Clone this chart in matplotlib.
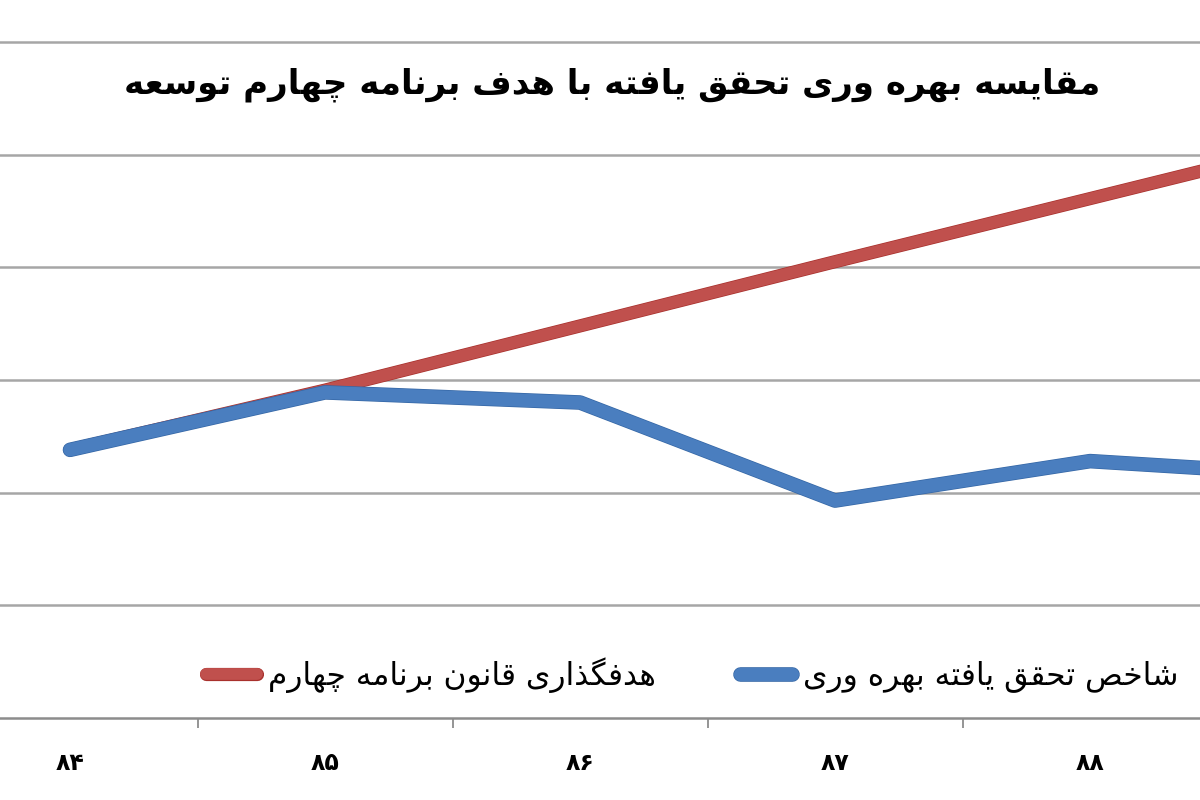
import matplotlib
matplotlib.use("Agg")
import matplotlib.pyplot as plt
import matplotlib.patheffects as pe
from matplotlib.ticker import FixedLocator

# Data (one grid step = 1 unit)
years = ['۸۴', '۸۵', '۸۶', '۸۷', '۸۸', '۸۹']
target = [2.38, 2.91, 3.48, 4.05, 4.61, 5.17]
achieved = [2.38, 2.89, 2.80, 1.93, 2.28, 2.14]

title = 'مقایسه بهره وری تحقق یافته با هدف برنامه چهارم توسعه'
label_target = 'هدفگذاری قانون برنامه چهارم'
label_achieved = 'شاخص تحقق یافته بهره وری'

# matplotlib has no Arabic shaping, so pick presentation forms by hand
# (isolated, final, initial, medial); None = does not join to the next letter
FORMS = {
    'ا': ('\uFE8D', '\uFE8E', None, None),
    'ب': ('\uFE8F', '\uFE90', '\uFE91', '\uFE92'),
    'ت': ('\uFE95', '\uFE96', '\uFE97', '\uFE98'),
    'ح': ('\uFEA1', '\uFEA2', '\uFEA3', '\uFEA4'),
    'خ': ('\uFEA5', '\uFEA6', '\uFEA7', '\uFEA8'),
    'د': ('\uFEA9', '\uFEAA', None, None),
    'ذ': ('\uFEAB', '\uFEAC', None, None),
    'ر': ('\uFEAD', '\uFEAE', None, None),
    'س': ('\uFEB1', '\uFEB2', '\uFEB3', '\uFEB4'),
    'ش': ('\uFEB5', '\uFEB6', '\uFEB7', '\uFEB8'),
    'ص': ('\uFEB9', '\uFEBA', '\uFEBB', '\uFEBC'),
    'ع': ('\uFEC9', '\uFECA', '\uFECB', '\uFECC'),
    'ف': ('\uFED1', '\uFED2', '\uFED3', '\uFED4'),
    'ق': ('\uFED5', '\uFED6', '\uFED7', '\uFED8'),
    'ل': ('\uFEDD', '\uFEDE', '\uFEDF', '\uFEE0'),
    'م': ('\uFEE1', '\uFEE2', '\uFEE3', '\uFEE4'),
    'ن': ('\uFEE5', '\uFEE6', '\uFEE7', '\uFEE8'),
    'ه': ('\uFEE9', '\uFEEA', '\uFEEB', '\uFEEC'),
    'و': ('\uFEED', '\uFEEE', None, None),
    'ی': ('\uFBFC', '\uFBFD', '\uFBFE', '\uFBFF'),
    'چ': ('\uFB7A', '\uFB7B', '\uFB7C', '\uFB7D'),
    'گ': ('\uFB92', '\uFB93', '\uFB94', '\uFB95'),
}


def fa(text):
    out = []
    for i, c in enumerate(text):
        if c not in FORMS:
            out.append(c)
            continue
        prev = text[i - 1] if i > 0 else None
        nxt = text[i + 1] if i + 1 < len(text) else None
        join_prev = prev in FORMS and FORMS[prev][2] is not None
        join_next = nxt in FORMS and FORMS[c][2] is not None
        iso, fin, ini, med = FORMS[c]
        if join_prev and join_next:
            out.append(med)
        elif join_prev:
            out.append(fin)
        elif join_next:
            out.append(ini)
        else:
            out.append(iso)
    return ''.join(reversed(out))


plt.rcParams['font.family'] = ['DejaVu Sans']

fig = plt.figure(figsize=(12, 8), dpi=100)
ax = fig.add_axes([0, 82 / 800, 1, 718 / 800])

x = list(range(len(years)))
red = '#C0504D'
blue = '#4A7EBF'

ax.plot(x, target, color=red, lw=8.5, solid_capstyle='round', solid_joinstyle='round',
        label=fa(label_target),
        path_effects=[pe.Stroke(linewidth=9.5, foreground='#A8302C'), pe.Normal()])
ax.plot(x, achieved, color=blue, lw=9.5, solid_capstyle='round', solid_joinstyle='round',
        label=fa(label_achieved),
        path_effects=[pe.Stroke(linewidth=10.5, foreground='#3466A5'), pe.Normal()])

ax.set_yticks(range(1, 7))
ax.yaxis.grid(True, color='#A6A6A6', lw=1.8)
ax.set_axisbelow(True)
ax.tick_params(axis='y', left=False, labelleft=False)

# only the first five years fall inside the cropped frame
ax.set_xticks(x[:5])
ax.set_xticklabels(years[:5], fontsize=17, fontweight='bold')
ax.xaxis.set_minor_locator(FixedLocator([i + 0.5 for i in x[:4]]))
ax.tick_params(axis='x', which='major', length=0, pad=24)
ax.tick_params(axis='x', which='minor', length=7, width=1.3, color='#8C8C8C', direction='out')

ax.set_xlim(-0.2745, 4.431)
ax.set_ylim(0, 718 / 112.67)

for side in ['top', 'left', 'right']:
    ax.spines[side].set_visible(False)
ax.spines['bottom'].set_color('#8C8C8C')
ax.spines['bottom'].set_linewidth(1.8)

fig.text(0.51, 1 - 85 / 800, fa(title), ha='center', va='center', fontsize=24.5,
         fontweight='bold')

ax.legend(loc='center', bbox_to_anchor=(692 / 1200, 1 - 675 / 800), bbox_transform=fig.transFigure,
          ncol=2, frameon=False, fontsize=22.5, handlelength=1.65, handletextpad=0.35,
          columnspacing=2.7)

fig.savefig('out.png', dpi=100, facecolor='white')
